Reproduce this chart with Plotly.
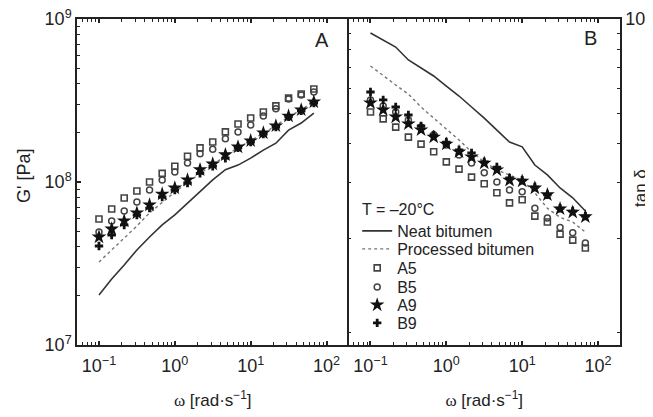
import plotly.graph_objects as go

# Frequencies (rad/s), 6 points per decade
omega = [0.1, 0.147, 0.215, 0.316, 0.464, 0.681, 1.0, 1.47, 2.15, 3.16,
         4.64, 6.81, 10.0, 14.7, 21.5, 31.6, 46.4, 68.1]

# Panel A: G' [Pa]
gA_neat = [2.03e7, 2.54e7, 3.10e7, 3.83e7, 4.60e7, 5.45e7, 6.28e7, 7.43e7, 8.68e7,
           1.03e8, 1.19e8, 1.27e8, 1.40e8, 1.57e8, 1.73e8, 2.08e8, 2.30e8, 2.65e8]
gA_proc = [3.23e7, 3.83e7, 4.53e7, 5.37e7, 6.46e7, 7.54e7, 8.68e7, 9.86e7, 1.13e8,
           1.27e8, 1.45e8, 1.62e8, 1.79e8, 2.00e8, 2.21e8, 2.51e8, 2.77e8, 3.14e8]
gA_A5 = [5.93e7, 6.83e7, 7.98e7, 8.80e7, 1.00e8, 1.13e8, 1.25e8, 1.44e8, 1.62e8,
         1.76e8, 2.03e8, 2.27e8, 2.47e8, 2.69e8, 2.93e8, 3.27e8, 3.47e8, 3.72e8]
gA_B5 = [4.93e7, 5.77e7, 6.64e7, 7.54e7, 8.93e7, 1.03e8, 1.15e8, 1.31e8, 1.49e8,
         1.59e8, 1.84e8, 2.03e8, 2.24e8, 2.54e8, 2.81e8, 3.23e8, 3.42e8, 3.56e8]
gA_A9 = [4.60e7, 5.15e7, 5.77e7, 6.46e7, 7.23e7, 8.44e7, 9.19e7, 1.03e8, 1.19e8,
         1.29e8, 1.47e8, 1.64e8, 1.79e8, 2.00e8, 2.21e8, 2.54e8, 2.77e8, 3.10e8]
gA_B9 = [4.05e7, 4.73e7, 5.45e7, 6.28e7, 6.92e7, 8.09e7, 8.93e7, 9.86e7, 1.13e8,
         1.25e8, 1.40e8, 1.62e8, 1.76e8, 1.97e8, 2.17e8, 2.51e8, 2.73e8, 3.05e8]

# Panel B: tan delta
tB_neat = [0.902, 0.857, 0.814, 0.740, 0.698, 0.658, 0.611, 0.568, 0.524,
           0.483, 0.442, 0.405, 0.391, 0.342, 0.318, 0.289, 0.269, 0.244]
tB_proc = [0.708, 0.658, 0.616, 0.576, 0.524, 0.483, 0.446, 0.411, 0.377,
           0.350, 0.330, 0.318, 0.306, 0.279, 0.249, 0.233, 0.225, 0.209]
tB_A5 = [0.505, 0.480, 0.452, 0.420, 0.399, 0.377, 0.350, 0.332, 0.313,
         0.298, 0.279, 0.259, 0.265, 0.235, 0.225, 0.206, 0.197, 0.186]
tB_B5 = [0.552, 0.528, 0.505, 0.476, 0.452, 0.427, 0.396, 0.368, 0.347,
         0.323, 0.302, 0.285, 0.281, 0.249, 0.232, 0.216, 0.208, 0.193]
tB_A9 = [0.540, 0.513, 0.487, 0.463, 0.443, 0.420, 0.399, 0.377, 0.363,
         0.347, 0.330, 0.306, 0.304, 0.289, 0.275, 0.248, 0.242, 0.234]
tB_B9 = [0.585, 0.552, 0.524, 0.494, 0.456, 0.427, 0.405, 0.382, 0.374,
         0.350, 0.337, 0.311, 0.306, 0.291, 0.275, 0.249, 0.244, 0.235]

series_names = ["Neat bitumen", "Processed bitumen", "A5", "B5", "A9", "B9"]
legend_title = "T = –20°C"

x_major = [0.1, 1, 10, 100]
x_major_text = ["10<sup>−1</sup>", "10<sup>0</sup>", "10<sup>1</sup>", "10<sup>2</sup>"]
ya_major = [1e7, 1e8, 1e9]
ya_major_text = ["10<sup>7</sup>", "10<sup>8</sup>", "10<sup>9</sup>"]
yb_major = [1]
yb_major_text = ["10<sup>0</sup>"]

INK = "#222222"
FONT = "Liberation Sans, Arial, sans-serif"
TICKFONT = dict(size=18, color=INK)

x_minor = [m * d for d in [0.01, 0.1, 1, 10, 100] for m in range(2, 10)]
ya_minor = [m * d for d in [1e7, 1e8] for m in range(2, 10)]
yb_minor = [m * 0.1 for m in range(1, 10)]

styles = [
    dict(mode="lines", line=dict(color="#333333", width=1.6)),
    dict(mode="lines", line=dict(color="#777777", width=1.4, dash="dot")),
    dict(mode="markers", marker=dict(symbol="square-open", size=6, color="#444444",
                                     line=dict(width=1.6))),
    dict(mode="markers", marker=dict(symbol="circle-open", size=6, color="#444444",
                                     line=dict(width=1.5))),
    dict(mode="markers", marker=dict(symbol="star", size=11, color="#111111")),
    dict(mode="markers", marker=dict(symbol="cross", size=7, color="#111111")),
]
legend_ids = ["legend", "legend2", "legend3", "legend4", "legend5", "legend6"]

fig = go.Figure()

dataA = [gA_neat, gA_proc, gA_A5, gA_B5, gA_A9, gA_B9]
dataB = [tB_neat, tB_proc, tB_A5, tB_B5, tB_A9, tB_B9]

for name, ys, st in zip(series_names, dataA, styles):
    fig.add_trace(go.Scatter(x=omega, y=ys, name=name, xaxis="x", yaxis="y",
                             showlegend=False, **st))
for name, ys, st, lg in zip(series_names, dataB, styles, legend_ids):
    fig.add_trace(go.Scatter(x=omega, y=ys, name=name, xaxis="x2", yaxis="y2",
                             showlegend=True, legend=lg, **st))

xtitle = '<span style="font-family:Liberation Serif, serif">ω</span> [rad·s<sup>−1</sup>]'

def xaxis_cfg(domain, anchor):
    return dict(type="log", domain=domain, anchor=anchor, range=[-1.29, 2.29],
                tickvals=x_major, ticktext=x_major_text, ticks="inside", ticklen=4,
                tickwidth=1.5, tickcolor=INK, showline=True, linecolor=INK, linewidth=1.5,
                mirror="allticks", showgrid=False, zeroline=False, automargin=False,
                ticklabelstandoff=4, ticklabeloverflow="allow",
                minor=dict(tickvals=x_minor, ticks="inside", ticklen=3, tickwidth=1.2,
                           tickcolor=INK, showgrid=False),
                tickfont=TICKFONT,
                title=dict(text=xtitle, font=dict(size=17, color=INK), standoff=19))

# legend rows (pixel centres in the 326-px-high plot area, measured from the top edge)
legend_rows_px = [212, 230, 249, 268, 286, 304]
legends = {}
for lg, py in zip(legend_ids, legend_rows_px):
    legends[lg] = dict(x=0.516, y=1 - py / 326, xanchor="left", yanchor="middle",
                       bgcolor="rgba(0,0,0,0)", borderwidth=0,
                       font=dict(size=16, color=INK))

# the page body adds an 8 px offset, so the figure is 8 px smaller on each side
fig.update_layout(
    width=645, height=409,
    margin=dict(l=69, r=33, t=11, b=72),
    paper_bgcolor="white", plot_bgcolor="white",
    font=dict(family=FONT, color=INK),
    xaxis=xaxis_cfg([0, 0.5], "y"),
    xaxis2=xaxis_cfg([0.5, 1], "y2"),
    yaxis=dict(type="log", domain=[0, 1], anchor="x", range=[7, 9],
               tickvals=ya_major, ticktext=ya_major_text, ticks="inside", ticklen=4,
               tickwidth=1.5, tickcolor=INK, showline=True, linecolor=INK, linewidth=1.5,
               mirror=False, showgrid=False, zeroline=False, automargin=False,
               ticklabeloverflow="allow",
               minor=dict(tickvals=ya_minor, ticks="inside", ticklen=3, tickwidth=1.2,
                          tickcolor=INK, showgrid=False),
               tickfont=TICKFONT),
    yaxis2=dict(type="log", domain=[0, 1], anchor="x2", side="right", range=[-1.04, 0],
                tickvals=yb_major, ticktext=yb_major_text, ticks="inside", ticklen=4,
                tickwidth=1.5, tickcolor=INK, showline=True, linecolor=INK, linewidth=1.5,
                mirror="allticks", showgrid=False, zeroline=False, automargin=False,
                ticklabeloverflow="allow",
                minor=dict(tickvals=yb_minor, ticks="inside", ticklen=3, tickwidth=1.2,
                           tickcolor=INK, showgrid=False),
                tickfont=TICKFONT),
    annotations=[
        dict(text="A", xref="x domain", yref="y domain", x=0.904, y=0.936,
             xanchor="center", yanchor="middle",
             showarrow=False, font=dict(size=20, color=INK)),
        dict(text="B", xref="x2 domain", yref="y2 domain", x=0.893, y=0.942,
             xanchor="center", yanchor="middle",
             showarrow=False, font=dict(size=20, color=INK)),
        dict(text=legend_title, xref="paper", yref="paper", x=0.521, y=1 - 191 / 326,
             xanchor="left", yanchor="middle", showarrow=False,
             font=dict(size=16, color=INK)),
        dict(text="G' [Pa]", xref="paper", yref="paper", x=(24 - 77) / 543,
             y=1 - 157 / 326, textangle=-90, xanchor="center", yanchor="middle",
             showarrow=False, font=dict(size=18, color=INK)),
        dict(text="tan δ", xref="paper", yref="paper", x=(640 - 77) / 543,
             y=1 - 169 / 326, textangle=-90, xanchor="center", yanchor="middle",
             showarrow=False, font=dict(size=17, color=INK)),
    ],
    **legends,
)

fig.write_html("out.html")
